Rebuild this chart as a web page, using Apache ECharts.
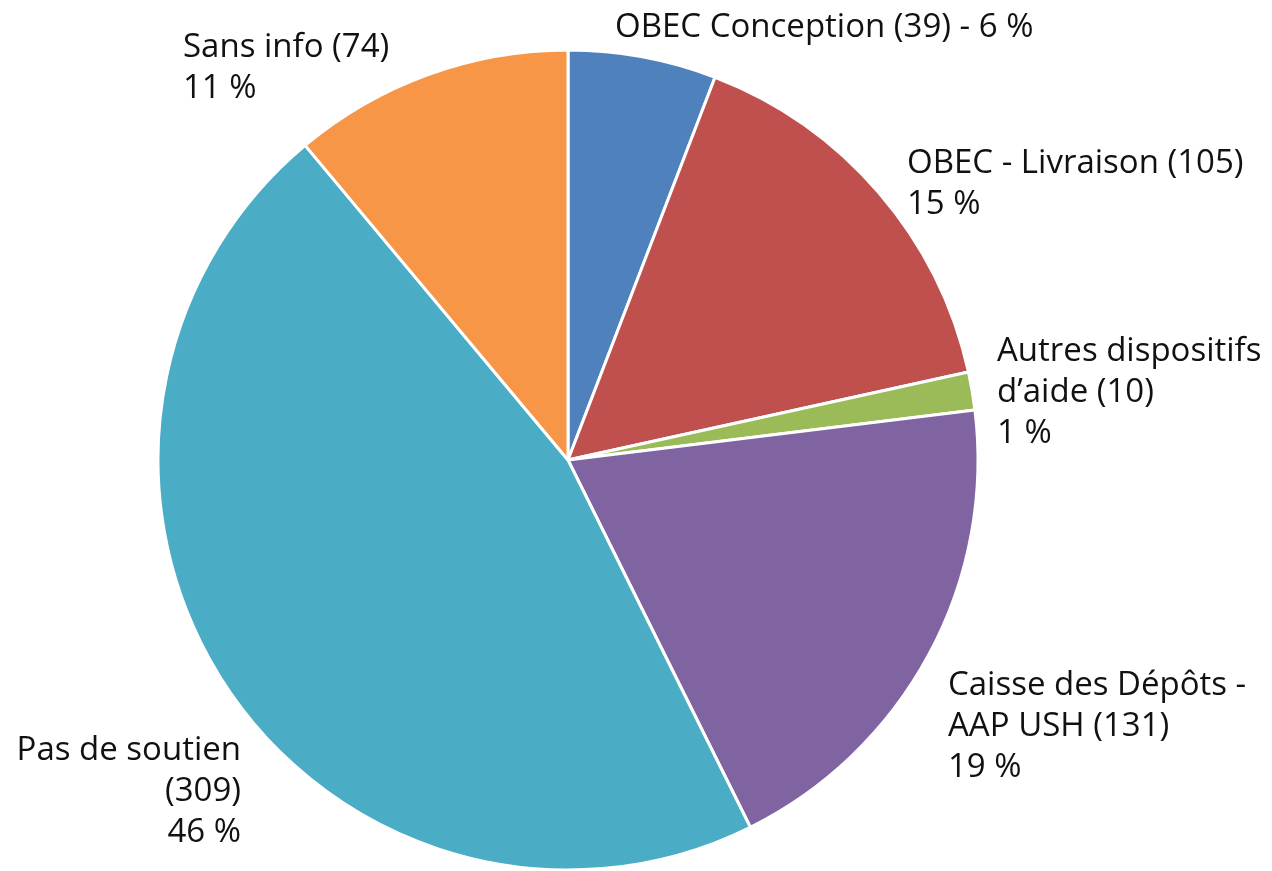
<!DOCTYPE html>
<html><head><meta charset="utf-8">
<script src="https://cdn.jsdelivr.net/npm/echarts@6/dist/echarts.min.js"></script>
<style>html,body{margin:0;padding:0;background:#fff}#c{width:1272px;height:871px}</style>
</head><body><div id="c"></div>
<script>
const categories = ["OBEC Conception", "OBEC - Livraison", "Autres dispositifs d\u2019aide", "Caisse des Dépôts - AAP USH", "Pas de soutien", "Sans info"];
const values = [39, 105, 10, 131, 309, 74];
const percents = ["6 %", "15 %", "1 %", "19 %", "46 %", "11 %"];
const labelTexts = [
  "OBEC Conception (39) - 6 %",
  "OBEC - Livraison (105)\n15 %",
  "Autres dispositifs\nd\u2019aide (10)\n1 %",
  "Caisse des Dépôts -\nAAP USH (131)\n19 %",
  "Pas de soutien\n(309)\n46 %",
  "Sans info (74)\n11 %"
];
const colors = ["#4F81BD", "#C0504D", "#9BBB59", "#8064A2", "#4BACC6", "#F79646"];
// label anchor positions (style, not data)
const labelPos = [
  {x: 615, y: 28, align: 'left'},
  {x: 907, y: 184, align: 'left'},
  {x: 997, y: 393, align: 'left'},
  {x: 948, y: 727, align: 'left'},
  {x: 241, y: 792, align: 'right'},
  {x: 183, y: 68, align: 'left'}
];
const chart = echarts.init(document.getElementById('c'));
chart.setOption({
  animation: false,
  series: [{
    type: 'pie',
    center: [568, 460],
    radius: 410,
    startAngle: 90,
    clockwise: true,
    data: categories.map((c, i) => ({name: c, value: values[i], itemStyle: {color: colors[i]}})),
    itemStyle: {borderColor: '#fff', borderWidth: 3},
    label: {
      show: true,
      position: 'outside',
      formatter: p => labelTexts[p.dataIndex],
      fontFamily: 'Open Sans',
      fontSize: 33,
      lineHeight: 41,
      color: '#111',
      align: 'left',
      overflow: 'none',
      width: 500
    },
    labelLine: {show: false},
    labelLayout: p => {
      const lp = labelPos[p.dataIndex];
      return {x: lp.x, y: lp.y, align: lp.align, verticalAlign: 'middle', hideOverlap: false};
    }
  }]
});
</script></body></html>
